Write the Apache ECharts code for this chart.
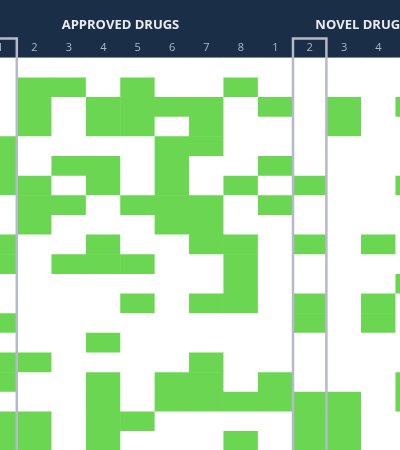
<!DOCTYPE html>
<html>
<head>
<meta charset="utf-8">
<script src="https://cdn.jsdelivr.net/npm/echarts@6/dist/echarts.min.js"></script>
<style>
html,body{margin:0;padding:0;background:#fff;}
#chart{width:400px;height:450px;}
</style>
</head>
<body>
<div id="chart"></div>
<script>
// Column labels (visible part of the matrix)
const columnLabels = ["1","2","3","4","5","6","7","8","1","2","3","4","5"];
const highlightedColumns = [0, 9];
const groupTitles = ["APPROVED DRUGS", "NOVEL DRUGS"];
const groupSizes = [8, 6];
const rowLabels = ["r1","r2","r3","r4","r5","r6","r7","r8","r9","r10","r11","r12","r13","r14","r15","r16","r17","r18","r19","r20"];

// 1 = present (green), 0 = absent (white)
const row01 = [0,0,0,0,0,0,0,0,0,0,0,0,0];
const row02 = [0,1,1,0,1,0,0,1,0,0,0,0,0];
const row03 = [0,1,0,1,1,1,1,0,1,0,1,0,1];
const row04 = [0,1,0,1,1,0,1,0,0,0,1,0,0];
const row05 = [1,0,0,0,0,1,1,0,0,0,0,0,0];
const row06 = [1,0,1,1,0,1,0,0,1,0,0,0,0];
const row07 = [1,1,0,1,0,1,0,1,0,1,0,0,1];
const row08 = [0,1,1,0,1,1,1,0,1,0,0,0,0];
const row09 = [0,1,0,0,0,1,1,0,0,0,0,0,0];
const row10 = [1,0,0,1,0,0,1,1,0,1,0,1,0];
const row11 = [1,0,1,1,1,0,0,1,0,0,0,0,0];
const row12 = [0,0,0,0,0,0,0,1,0,0,0,0,1];
const row13 = [0,0,0,0,1,0,1,1,0,1,0,1,0];
const row14 = [1,0,0,0,0,0,0,0,0,1,0,1,0];
const row15 = [0,0,0,1,0,0,0,0,0,0,0,0,0];
const row16 = [1,1,0,0,0,0,1,0,0,0,0,0,0];
const row17 = [1,0,0,1,0,1,1,0,1,0,0,0,1];
const row18 = [0,0,0,1,0,1,1,1,1,1,1,0,1];
const row19 = [1,1,0,1,1,0,0,0,0,1,1,0,0];
const row20 = [1,1,0,1,0,0,0,1,0,1,1,0,0];
const matrixRows = [row01,row02,row03,row04,row05,row06,row07,row08,row09,row10,row11,row12,row13,row14,row15,row16,row17,row18,row19,row20];

const data = [];
matrixRows.forEach((row, r) => row.forEach((v, c) => data.push([c, r, v])));

const chart = echarts.init(document.getElementById('chart'), null, {renderer: 'canvas'});
const colW = 34.4, rowH = 19.65;
const option = {
  animation: false,
  backgroundColor: '#ffffff',
  grid: {left: -17.1, top: 58, width: colW * columnLabels.length, height: rowH * rowLabels.length,
    containLabel: false, outerBoundsMode: 'none'},
  xAxis: {
    type: 'category', position: 'top', data: columnLabels.map((l, i) => i + ':' + l),
    axisLine: {show: false}, axisTick: {show: false}, splitLine: {show: false},
    axisLabel: {interval: 0, margin: 5, color: '#aeb7c4', fontSize: 11, fontFamily: 'Open Sans',
      hideOverlap: false, formatter: v => v.split(':')[1]}
  },
  yAxis: {
    type: 'category', inverse: true, data: rowLabels,
    axisLine: {show: false}, axisTick: {show: false}, axisLabel: {show: false}, splitLine: {show: false}
  },
  visualMap: {show: false, type: 'piecewise', dimension: 2,
    pieces: [{value: 0, color: '#ffffff'}, {value: 1, color: '#6bd651'}]},
  series: [{type: 'heatmap', data: data, itemStyle: {borderWidth: 0}, emphasis: {disabled: true}}]
};
chart.setOption(option);

// header background, titles and highlight frames positioned through the axis scale
const cx = i => chart.convertToPixel({xAxisIndex: 0}, i);
const graphics = [];
graphics.push({type: 'rect', z: -1, shape: {x: 0, y: 0, width: 400, height: 57.7}, style: {fill: '#1b2e48'}, silent: true});
let start = 0;
groupTitles.forEach((t, g) => {
  const n = groupSizes[g];
  const center = cx(start) + (n - 1) * colW / 2;
  graphics.push({type: 'text', x: center, y: 25, z: 5,
    style: {text: t, fill: '#e8ecf1', font: 'bold 13px "Open Sans"', align: 'center', verticalAlign: 'middle'}});
  start += n;
});
highlightedColumns.forEach(c => {
  const x = cx(c);
  graphics.push({type: 'rect', z: 10, silent: true,
    shape: {x: x - colW / 2 + 0.5, y: 38.5, width: colW - 1, height: 430},
    style: {fill: 'none', stroke: '#b5b9ca', lineWidth: 2.5}});
});
chart.setOption({graphic: graphics});
</script>
</body>
</html>
